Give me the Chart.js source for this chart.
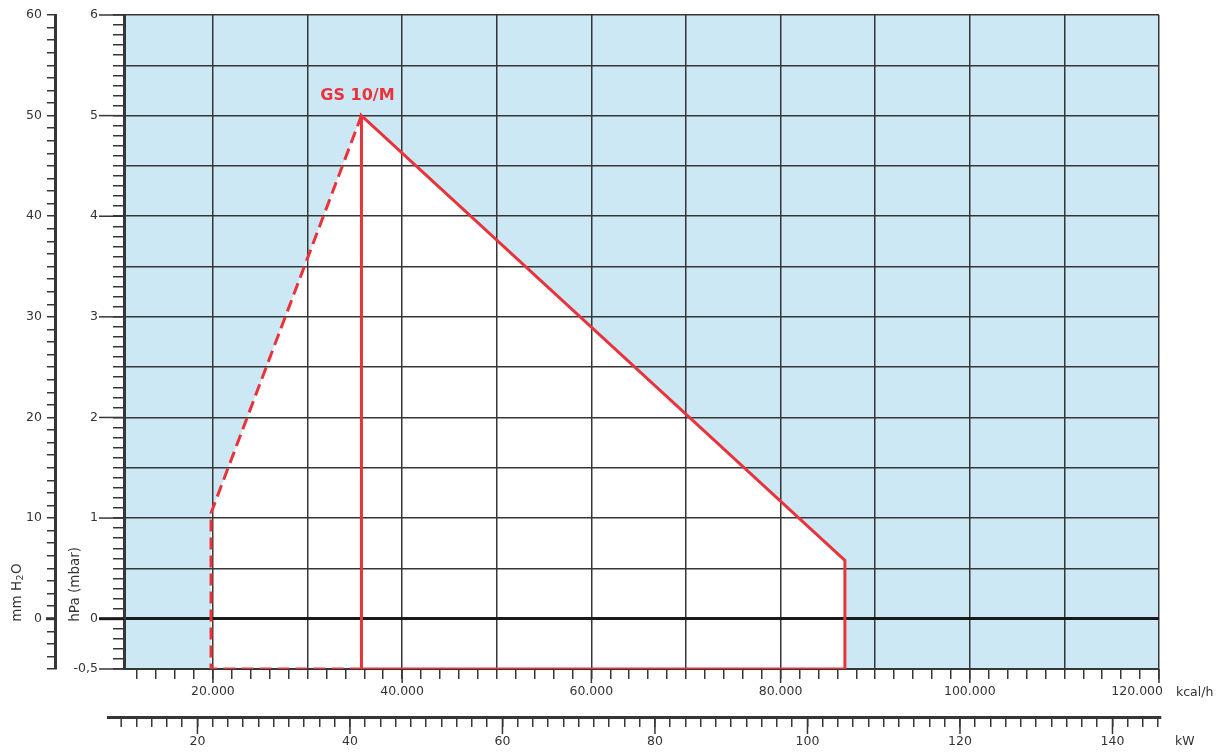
<!DOCTYPE html>
<html>
<head>
<meta charset="utf-8">
<script src="https://cdn.jsdelivr.net/npm/chart.js@4/dist/chart.umd.min.js"></script>
<style>
  html, body { margin: 0; padding: 0; background: #ffffff; }
  canvas { display: block; }
</style>
</head>
<body>
<canvas id="c" width="1220" height="752"></canvas>
<script>
// ---------------- data ----------------
const modelName = 'GS 10/M';
// working field boundary: capacity (kcal/h) / pressure (hPa)
const solidKcal  = [35700, 35700, 86800, 86800, 35700];
const solidHpa   = [-0.5, 5.0, 0.58, -0.5, -0.5];
const dashedKcal = [35700, 19800, 19800, 35700];
const dashedHpa  = [-0.5, -0.5, 1.05, 5.0];
const areaKcal   = [19800, 19800, 35700, 86800, 86800];
const areaHpa    = [-0.5, 1.05, 5.0, 0.58, -0.5];

// ---------------- axes ----------------
const kcalRange      = [10600, 120000];
const kcalMinorStep  = 2000;
const kcalGridStep   = 10000;
const kcalTickValues = [20000, 40000, 60000, 80000, 100000, 120000];
const kcalTickLabels = ['20.000', '40.000', '60.000', '80.000', '100.000', '120.000'];
const kcalUnit       = 'kcal/h';
const KCAL_PER_AXIS_UNIT = 1000; // x axis runs in thousands of kcal/h

const kwRange        = [10.37, 146.1];
const kwLineRange    = [8.14, 146.4];
const kwExtraTicks   = [10];
const kwTickValues   = [20, 40, 60, 80, 100, 120, 140];
const kwTickLabels   = ['20', '40', '60', '80', '100', '120', '140'];
const kwUnit         = 'kW';

const hpaRange       = [-0.5, 6];
const hpaTickValues  = [-0.5, 0, 1, 2, 3, 4, 5, 6];
const hpaTickLabels  = ['-0,5', '0', '1', '2', '3', '4', '5', '6'];
const hpaTitle       = 'hPa (mbar)';

const mmRange        = [-5, 60];
const mmTickValues   = [0, 10, 20, 30, 40, 50, 60];
const mmTickLabels   = ['0', '10', '20', '30', '40', '50', '60'];
const mmTitleParts   = ['mm H', '2', 'O'];

// ---------------- style ----------------
const RED  = '#e8333b';
const GRID = '#363636';
const ZERO = '#1a1a1a';
const TXT  = '#333333';
const BG   = '#cde8f5';
const FONT = "'DejaVu Sans', 'Liberation Sans', sans-serif";
const TICK_FONT_SIZE = 12.5;
const CLEAR = 'rgba(0,0,0,0)';

Chart.defaults.font.family = FONT;
Chart.defaults.font.size = TICK_FONT_SIZE;
Chart.defaults.color = TXT;

const K = KCAL_PER_AXIS_UNIT;
function labelFor(values, labels, v) {
  const i = values.findIndex(t => Math.abs(t - v) < 1e-6);
  return i < 0 ? '' : labels[i];
}
function isMult(v, step) {
  const r = v / step;
  return Math.abs(r - Math.round(r)) < 1e-6;
}
function toPoints(xs, ys) { return xs.map((x, i) => ({ x: x / K, y: ys[i] })); }
function fixVertical(width) {
  return s => { s.width = width; s.paddingTop = 7; s.paddingBottom = 7; };
}

const bgPlugin = {
  id: 'bgArea',
  beforeDraw(chart) {
    const { ctx, chartArea: a } = chart;
    ctx.save();
    ctx.fillStyle = BG;
    ctx.fillRect(a.left, a.top, a.right - a.left, a.bottom - a.top);
    const pts = chart.getDatasetMeta(0).data;
    ctx.beginPath();
    pts.forEach((p, i) => (i ? ctx.lineTo(p.x, p.y) : ctx.moveTo(p.x, p.y)));
    ctx.closePath();
    ctx.fillStyle = '#ffffff';
    ctx.fill();
    ctx.restore();
  }
};

const overlayPlugin = {
  id: 'overlay',
  afterDraw(chart) {
    const ctx = chart.ctx;
    const sx = chart.scales.x, sk = chart.scales.kw, sy = chart.scales.y, sm = chart.scales.mm;
    const line = (x1, y1, x2, y2) => { ctx.beginPath(); ctx.moveTo(x1, y1); ctx.lineTo(x2, y2); ctx.stroke(); };
    ctx.save();
    ctx.lineCap = 'butt';

    // hPa major ticks (longer)
    hpaTickValues.forEach(v => {
      const y = sy.getPixelForValue(v);
      ctx.lineWidth = v === 0 ? 3 : 1.5;
      ctx.strokeStyle = v === 0 ? ZERO : GRID;
      line(sy.right - 25, y, sy.right, y);
    });
    ctx.strokeStyle = GRID;
    // mm zero tick thicker
    ctx.lineWidth = 3;
    line(sm.right - 9, sm.getPixelForValue(0), sm.right, sm.getPixelForValue(0));

    // kcal major ticks (longer)
    ctx.lineWidth = 1.5;
    kcalTickValues.forEach(v => {
      const x = sx.getPixelForValue(v / K);
      line(x, sx.top, x, sx.top + 14);
    });

    // kW axis line, extra and major ticks
    ctx.lineWidth = 3;
    line(sk.getPixelForValue(kwLineRange[0]), sk.top + 1.5, sk.getPixelForValue(kwLineRange[1]), sk.top + 1.5);
    ctx.lineWidth = 1.5;
    kwExtraTicks.forEach(v => {
      const x = sk.getPixelForValue(v);
      line(x, sk.top, x, sk.top + 11);
    });
    kwTickValues.forEach(v => {
      const x = sk.getPixelForValue(v);
      line(x, sk.top, x, sk.top + 18);
    });

    // last kcal label and units
    ctx.fillStyle = TXT;
    ctx.font = TICK_FONT_SIZE + 'px ' + FONT;
    ctx.textBaseline = 'middle';
    const lastI = kcalTickValues.length - 1;
    const xl = sx.getPixelForValue(kcalTickValues[lastI] / K);
    const kcalLabelY = sx.top + 10 + 5 + TICK_FONT_SIZE * 0.6;
    const kwLabelY = sk.top + 11 + 7 + TICK_FONT_SIZE * 0.6;
    ctx.textAlign = 'right';
    ctx.fillText(kcalTickLabels[lastI], xl + 4, kcalLabelY);
    ctx.textAlign = 'left';
    ctx.fillText(kcalUnit, xl + 17, kcalLabelY + 1);
    ctx.fillText(kwUnit, xl + 16, kwLabelY);

    // rotated axis titles
    const zeroY = sy.getPixelForValue(0) + 3;
    ctx.save();
    ctx.font = '13.5px ' + FONT;
    ctx.translate(sy.left + 20, zeroY);
    ctx.rotate(-Math.PI / 2);
    ctx.textAlign = 'left';
    ctx.fillText(hpaTitle, 0, 0);
    ctx.restore();

    ctx.save();
    ctx.translate(sm.left + 17, zeroY);
    ctx.rotate(-Math.PI / 2);
    ctx.textAlign = 'left';
    ctx.font = '13.5px ' + FONT;
    const w1 = ctx.measureText(mmTitleParts[0]).width;
    ctx.fillText(mmTitleParts[0], 0, 0);
    ctx.font = '9.5px ' + FONT;
    const w2 = ctx.measureText(mmTitleParts[1]).width;
    ctx.fillText(mmTitleParts[1], w1 + 0.5, 4);
    ctx.font = '13.5px ' + FONT;
    ctx.fillText(mmTitleParts[2], w1 + w2 + 1, 0);
    ctx.restore();

    // model label above the apex
    const apex = chart.getDatasetMeta(1).data[1];
    ctx.font = 'bold 16px ' + FONT;
    ctx.fillStyle = RED;
    ctx.textAlign = 'center';
    ctx.fillText(modelName, apex.x - 4, apex.y - 20);
    ctx.restore();
  }
};

const config = {
  type: 'line',
  data: {
    datasets: [
      { label: 'area', data: toPoints(areaKcal, areaHpa), showLine: false, pointRadius: 0, borderWidth: 0,
        xAxisID: 'x', yAxisID: 'y' },
      { label: modelName, data: toPoints(solidKcal, solidHpa), borderColor: RED, borderWidth: 3, pointRadius: 0,
        fill: false, tension: 0, borderJoinStyle: 'miter', xAxisID: 'x', yAxisID: 'y' },
      { label: modelName + ' (dashed)', data: toPoints(dashedKcal, dashedHpa), borderColor: RED, borderWidth: 3,
        borderDash: [12, 6], pointRadius: 0, fill: false, tension: 0, xAxisID: 'x', yAxisID: 'y' }
    ]
  },
  options: {
    responsive: false,
    animation: false,
    devicePixelRatio: 1,
    layout: { padding: { top: 15, right: 61, bottom: 0, left: 0 } },
    plugins: { legend: { display: false }, tooltip: { enabled: false }, title: { display: false } },
    scales: {
      x: {
        type: 'linear', position: 'bottom', weight: 0,
        min: kcalRange[0] / K, max: kcalRange[1] / K,
        afterFit: s => { s.height = 47; },
        border: { display: true, color: GRID, width: 2 },
        grid: {
          color: c => (c.tick && isMult(c.tick.value, kcalGridStep / K)) ? GRID : CLEAR,
          lineWidth: 1.5, tickColor: GRID, tickWidth: 1.5, tickLength: 10
        },
        ticks: {
          stepSize: kcalMinorStep / K, autoSkip: false, includeBounds: false, maxRotation: 0, minRotation: 0, padding: 5,
          callback: v => {
            const i = kcalTickValues.findIndex(t => Math.abs(t / K - v) < 1e-6);
            return (i < 0 || i === kcalTickValues.length - 1) ? '' : kcalTickLabels[i];
          }
        }
      },
      kw: {
        type: 'linear', position: 'bottom', weight: 10,
        min: kwRange[0], max: kwRange[1],
        afterFit: s => { s.height = 36; },
        border: { display: false },
        grid: { drawOnChartArea: false, tickColor: GRID, tickWidth: 1.5, lineWidth: 1.5, tickLength: 11 },
        ticks: {
          stepSize: 2, autoSkip: false, includeBounds: false, maxRotation: 0, minRotation: 0, padding: 7,
          callback: v => labelFor(kwTickValues, kwTickLabels, v)
        }
      },
      y: {
        type: 'linear', position: 'left', weight: 0,
        min: hpaRange[0], max: hpaRange[1],
        afterFit: fixVertical(69),
        border: { display: true, color: GRID, width: 3 },
        grid: {
          color: c => {
            if (!c.tick) return CLEAR;
            const v = c.tick.value;
            if (Math.abs(v) < 1e-9) return ZERO;
            return isMult(v, 0.5) ? GRID : CLEAR;
          },
          lineWidth: c => (c.tick && Math.abs(c.tick.value) < 1e-9) ? 3 : 1.5,
          tickColor: GRID, tickWidth: 1.5, tickLength: 11
        },
        ticks: {
          stepSize: 0.1, autoSkip: false, includeBounds: false, padding: 15,
          callback: v => labelFor(hpaTickValues, hpaTickLabels, v)
        }
      },
      mm: {
        type: 'linear', position: 'left', weight: 10,
        min: mmRange[0], max: mmRange[1],
        afterFit: fixVertical(55),
        border: { display: true, color: GRID, width: 3 },
        grid: { drawOnChartArea: false, tickColor: GRID, tickWidth: 1.5, lineWidth: 1.5, tickLength: 8 },
        ticks: {
          stepSize: 1.25, autoSkip: false, includeBounds: false, padding: 5,
          callback: v => labelFor(mmTickValues, mmTickLabels, v)
        }
      }
    }
  },
  plugins: [bgPlugin, overlayPlugin]
};

new Chart(document.getElementById('c'), config);
</script>
</body>
</html>
